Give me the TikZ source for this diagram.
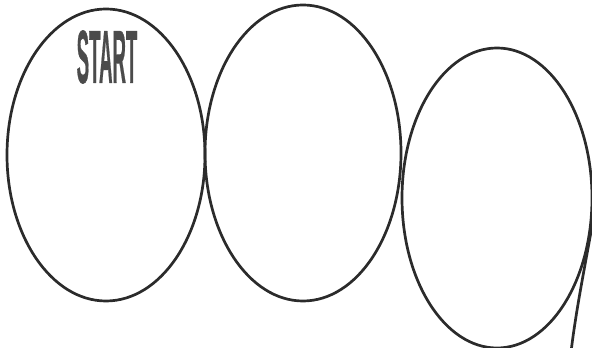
\documentclass[tikz,border=0pt]{standalone}
\usepackage{fontspec}
\newfontfamily\startfont{Liberation Sans Bold}[FakeBold=1]
\usepackage{tikz}
\usetikzlibrary{shapes.geometric,positioning}
\usepackage{xcolor}
\definecolor{ink}{HTML}{2B2B2B}

\begin{document}
\begin{tikzpicture}[x=0.5pt,y=0.5pt,
    loop/.style={ellipse,draw=ink,line width=1.35pt,inner sep=0pt}]
  \useasboundingbox (0,0) rectangle (592,347);
  \clip (0,0) rectangle (592,347);
  \node[loop,minimum width=99pt,minimum height=146pt] (first) at (106,192) {};
  \node[loop,minimum width=98pt,minimum height=148pt] (second) at (303,194) {};
  \node[loop,minimum width=95pt,minimum height=150pt] (third) at (497,149) {};
  \draw[ink,line width=1.35pt] (597,150) .. controls (588,95) and (577,45) .. (571,-5);
  \node[font=\startfont\fontsize{30}{30}\selectfont,text=ink!85,inner sep=0pt,xscale=0.31,yscale=1.25] (start) at (107,290) {START};
\end{tikzpicture}
\end{document}
